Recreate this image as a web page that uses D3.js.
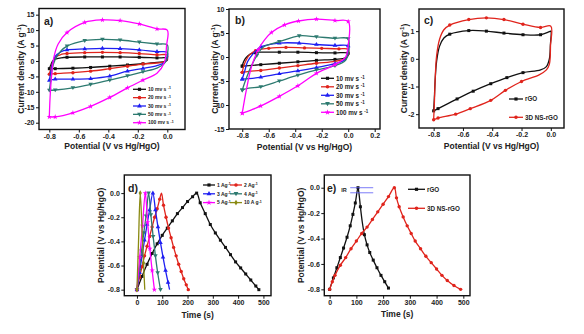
<!DOCTYPE html>
<html>
<head>
<meta charset="utf-8">
<script src="https://cdn.jsdelivr.net/npm/d3@7"></script>
<style>
  body { margin: 0; background: #fff; }
  svg text { font-family: "Liberation Sans", Arial, sans-serif; font-weight: bold; fill: #222; }
</style>
</head>
<body>
<div id="fig"></div>
<script>
// ---- CV loops, [potential V, current density A/g], anodic sweep then cathodic ----
const scanRates = ["10 mv s", "20 mv s", "30 mv s", "50 mv s", "100 mv s"];

const a10 = [[-0.8,-2.5],[-0.79,-1.3],[-0.78,-0.2],[-0.76,0.6],[-0.72,1.0],[-0.68,1.2],[-0.56,1.3],[-0.44,1.3],[-0.32,1.3],[-0.19,1.2],[-0.07,1.0],[0,0.9],
  [0,0.3],[-0.02,-0.2],[-0.07,-0.45],[-0.165,-0.9],[-0.27,-1.3],[-0.39,-1.7],[-0.52,-2.1],[-0.64,-2.35],[-0.76,-2.5],[-0.8,-2.5]];
const a20 = [[-0.8,-4.3],[-0.79,-2.5],[-0.78,-0.8],[-0.76,1.2],[-0.72,2.1],[-0.68,2.4],[-0.56,2.7],[-0.44,2.8],[-0.32,2.7],[-0.19,2.4],[-0.07,2.0],[0,1.9],
  [0,0.6],[-0.02,-0.3],[-0.07,-0.65],[-0.165,-1.0],[-0.27,-1.7],[-0.39,-2.5],[-0.52,-3.3],[-0.64,-3.8],[-0.76,-4.1],[-0.8,-4.3]];
const a30 = [[-0.8,-6.3],[-0.79,-3.5],[-0.78,-1.0],[-0.76,1.5],[-0.72,3.0],[-0.68,3.6],[-0.56,3.9],[-0.44,4.1],[-0.32,4.0],[-0.19,3.6],[-0.07,3.0],[0,2.8],
  [0,1.0],[-0.02,-0.6],[-0.07,-1.5],[-0.165,-2.4],[-0.27,-3.3],[-0.39,-4.9],[-0.52,-5.7],[-0.64,-5.9],[-0.76,-5.9],[-0.8,-6.3]];
const a50 = [[-0.8,-9.5],[-0.79,-6],[-0.78,-2.5],[-0.76,0.5],[-0.72,3.3],[-0.68,4.8],[-0.56,6.6],[-0.44,7.0],[-0.32,6.8],[-0.19,6.1],[-0.07,5.5],[0,5.2],
  [0,2.0],[-0.02,-0.8],[-0.07,-2.3],[-0.165,-3.5],[-0.27,-4.8],[-0.39,-6.2],[-0.52,-7.6],[-0.64,-8.7],[-0.76,-9.4],[-0.8,-9.5]];
const a100 = [[-0.8,-18.1],[-0.795,-12],[-0.785,-5],[-0.77,1],[-0.74,5.5],[-0.68,9.2],[-0.56,12.5],[-0.44,13.3],[-0.32,13.1],[-0.19,12.0],[-0.07,10.4],[0,10.0],
  [-0.005,5],[-0.02,-0.5],[-0.07,-4.0],[-0.165,-6.2],[-0.27,-8.7],[-0.39,-11.8],[-0.52,-14.7],[-0.64,-16.8],[-0.76,-18.1],[-0.8,-18.1]];

const b10 = [[-0.8,-1.9],[-0.79,-1.0],[-0.77,-0.1],[-0.74,0.6],[-0.7,0.9],[-0.66,1.0],[-0.52,1.0],[-0.38,1.0],[-0.24,0.9],[-0.1,0.85],[0,0.8],
  [0,0.3],[-0.02,-0.2],[-0.1,-0.5],[-0.24,-0.7],[-0.38,-1.0],[-0.52,-1.3],[-0.66,-1.6],[-0.75,-1.8],[-0.8,-1.9]];
const b20 = [[-0.8,-3.2],[-0.79,-2.0],[-0.77,-0.6],[-0.74,0.6],[-0.7,1.3],[-0.6,1.8],[-0.47,2.0],[-0.33,1.9],[-0.2,1.8],[-0.07,1.7],[0,1.6],
  [0,0.5],[-0.02,-0.3],[-0.1,-0.9],[-0.24,-1.3],[-0.38,-1.8],[-0.52,-2.3],[-0.66,-2.8],[-0.75,-3.0],[-0.8,-3.2]];
const b30 = [[-0.8,-4.6],[-0.78,-2.8],[-0.76,-1.0],[-0.72,0.6],[-0.66,2.1],[-0.52,2.9],[-0.37,2.9],[-0.24,2.6],[-0.1,2.4],[0,2.3],
  [0,0.8],[-0.02,-0.5],[-0.1,-1.4],[-0.24,-2.2],[-0.38,-2.9],[-0.52,-3.5],[-0.66,-4.2],[-0.75,-4.5],[-0.8,-4.6]];
const b50 = [[-0.8,-6.9],[-0.77,-4.5],[-0.73,-1.8],[-0.69,0.3],[-0.64,2.1],[-0.52,3.2],[-0.37,4.4],[-0.24,4.2],[-0.1,3.9],[0,3.8],
  [0,1.0],[-0.02,-0.7],[-0.1,-1.8],[-0.24,-2.7],[-0.38,-3.8],[-0.52,-5.0],[-0.66,-6.2],[-0.75,-6.5],[-0.8,-6.9]];
const b100 = [[-0.8,-11.7],[-0.77,-7],[-0.73,-2],[-0.68,1.5],[-0.63,3.6],[-0.58,5.1],[-0.48,6.7],[-0.375,7.5],[-0.24,7.9],[-0.1,7.6],[0,7.4],
  [0,2.5],[-0.02,0],[-0.1,-1.6],[-0.24,-3.4],[-0.38,-6.0],[-0.52,-8.2],[-0.66,-10.2],[-0.73,-11.0],[-0.8,-11.7]];

const materials = ["rGO", "3D NS-rGO"];
const cRGO = [[-0.8,-1.88],[-0.795,-1.4],[-0.79,-0.8],[-0.78,-0.1],[-0.76,0.45],[-0.73,0.75],[-0.69,0.89],[-0.56,1.02],[-0.44,1.0],[-0.32,0.93],[-0.19,0.87],[-0.07,0.87],[-0.01,0.98],[0,1.0],
  [-0.003,0.5],[-0.01,0.0],[-0.03,-0.28],[-0.07,-0.4],[-0.19,-0.5],[-0.3,-0.68],[-0.41,-0.9],[-0.53,-1.17],[-0.64,-1.45],[-0.77,-1.8],[-0.8,-1.88]];
const cNS = [[-0.8,-2.2],[-0.795,-1.6],[-0.79,-0.8],[-0.78,0.1],[-0.76,0.7],[-0.73,1.05],[-0.69,1.22],[-0.56,1.42],[-0.44,1.48],[-0.32,1.42],[-0.19,1.25],[-0.07,1.13],[0,1.18],
  [-0.002,0.5],[-0.01,-0.2],[-0.03,-0.4],[-0.08,-0.58],[-0.2,-0.82],[-0.31,-1.14],[-0.41,-1.5],[-0.55,-1.8],[-0.65,-2.0],[-0.77,-2.14],[-0.8,-2.2]];

// ---- charge/discharge curves, [time s, potential V] ----
const currents = ["1 Ag", "2 Ag", "3 Ag", "4 Ag", "5 Ag", "10 A g"];
const d1 = [[0,-0.8],[20,-0.69],[40,-0.59],[60,-0.5],[80,-0.42],[100,-0.35],[120,-0.29],[140,-0.23],[160,-0.17],[180,-0.12],[200,-0.07],[220,-0.03],[236,0],
  [250,-0.08],[270,-0.17],[290,-0.26],[310,-0.33],[330,-0.39],[350,-0.45],[370,-0.51],[390,-0.57],[410,-0.62],[430,-0.67],[450,-0.72],[470,-0.77],[482,-0.8]];
const d2 = [[0,-0.8],[10,-0.7],[20,-0.61],[30,-0.52],[40,-0.44],[50,-0.36],[60,-0.28],[70,-0.2],[80,-0.13],[90,-0.05],[97,0],
  [105,-0.1],[115,-0.2],[125,-0.29],[135,-0.37],[145,-0.45],[155,-0.52],[165,-0.59],[175,-0.65],[185,-0.71],[195,-0.76],[203,-0.8]];
const d3s = [[0,-0.8],[10,-0.66],[20,-0.52],[30,-0.39],[40,-0.26],[50,-0.14],[63,0],
  [73,-0.14],[83,-0.28],[93,-0.41],[103,-0.53],[113,-0.64],[123,-0.74],[129,-0.8]];
const d4 = [[0,-0.8],[9,-0.64],[18,-0.48],[27,-0.33],[36,-0.19],[46,0],
  [55,-0.18],[64,-0.36],[73,-0.52],[82,-0.66],[93,-0.8]];
const d5 = [[0,-0.8],[11,-0.53],[22,-0.27],[33,0],[42,-0.24],[51,-0.46],[60,-0.64],[69,-0.8]];
const d10 = [[0,-0.8],[6,-0.42],[13,0],[20,-0.3],[26,-0.58],[31,-0.8]];

const eRGO = [[0,-0.8],[14,-0.71],[27,-0.63],[40,-0.55],[52,-0.475],[65,-0.39],[77,-0.3],[87,-0.21],[96,-0.12],[106,0],
  [110,-0.05],[115,-0.15],[122,-0.27],[130,-0.37],[140,-0.45],[150,-0.51],[163,-0.57],[177,-0.63],[192,-0.69],[206,-0.74],[220,-0.79]];
const eNS = [[0,-0.8],[10,-0.74],[20,-0.69],[40,-0.61],[60,-0.55],[80,-0.48],[100,-0.42],[120,-0.36],[140,-0.31],[160,-0.25],[180,-0.19],[200,-0.13],[220,-0.07],[242,0],
  [250,-0.08],[260,-0.15],[275,-0.23],[290,-0.3],[305,-0.36],[320,-0.42],[340,-0.48],[360,-0.54],[380,-0.59],[400,-0.64],[420,-0.69],[440,-0.73],[465,-0.77],[490,-0.8]];
// IR drop at the top of the rGO discharge
const irLevels = [0, -0.04];
const irSpan = [77, 163];

const colors = { black: "#111", red: "#e0241c", blue: "#1f1ff2", teal: "#2d7a70", magenta: "#f0f", olive: "#8a8a12" };
const triDown = { draw: (ctx, size) => { const s = Math.sqrt(size / 0.433) / 2; ctx.moveTo(0, s); ctx.lineTo(s, -s * 0.7); ctx.lineTo(-s, -s * 0.7); ctx.closePath(); } };

const svg = d3.select("#fig").append("svg").attr("width", 584).attr("height", 334);

const fmt1 = (d) => d.toFixed(1);
const fmt0 = (d) => String(d);

function supText(sel, base, sup, tail) {
  sel.append("tspan").text(base);
  sel.append("tspan").attr("dy", "-0.45em").attr("font-size", "0.7em").text(sup);
  if (tail) sel.append("tspan").attr("dy", "0.45em").text(tail);
}

function panel(cfg) {
  const [l, t, r, b] = cfg.box;
  const x = d3.scaleLinear().domain(cfg.xDomain).range([l, r]);
  const y = d3.scaleLinear().domain(cfg.yDomain).range([b, t]);
  const g = svg.append("g");

  const xAxis = g.append("g").attr("transform", `translate(0,${b})`)
    .call(d3.axisBottom(x).tickValues(cfg.xTicks).tickFormat(cfg.xFormat).tickSize(3).tickPadding(1.5));
  const yAxis = g.append("g").attr("transform", `translate(${l},0)`)
    .call(d3.axisLeft(y).tickValues(cfg.yTicks).tickFormat(cfg.yFormat).tickSize(3).tickPadding(1.5));
  [xAxis, yAxis].forEach((a) => {
    a.select(".domain").remove();
    a.selectAll("line").attr("stroke", "#111").attr("stroke-width", 1);
    a.selectAll("text").attr("font-size", 7).attr("font-family", null).attr("fill", "#222");
  });

  g.append("rect").attr("x", l).attr("y", t).attr("width", r - l).attr("height", b - t)
    .attr("fill", "none").attr("stroke", "#111").attr("stroke-width", 1.4);

  // axis titles
  g.append("text").attr("x", (l + r) / 2).attr("y", cfg.xTitleY).attr("text-anchor", "middle")
    .attr("font-size", 8.5).text(cfg.xTitle);
  const yt = g.append("text").attr("transform", `translate(${cfg.yTitleX},${(t + b) / 2}) rotate(-90)`)
    .attr("text-anchor", "middle").attr("font-size", 8.5);
  if (cfg.ySup) supText(yt, cfg.yTitle, cfg.ySup, ")");
  else yt.text(cfg.yTitle);

  g.append("text").attr("x", cfg.letter[1]).attr("y", cfg.letter[2]).attr("font-size", 10.5)
    .attr("fill", "#111").text(cfg.letter[0]);

  return { g, x, y };
}

function series(p, pts, color, symbol, gap) {
  const line = d3.line().x((d) => p.x(d[0])).y((d) => p.y(d[1])).curve(d3.curveCatmullRom.alpha(0.5));
  p.g.append("path").datum(pts).attr("d", line)
    .attr("fill", "none").attr("stroke", color).attr("stroke-width", 1.3);

  // markers spaced out horizontally so the steep ends stay bare
  let lastX = -Infinity;
  const marks = pts.filter((d) => {
    const px = p.x(d[0]);
    if (Math.abs(px - lastX) >= gap) { lastX = px; return true; }
    return false;
  });
  p.g.selectAll(null).data(marks).enter().append("path")
    .attr("d", d3.symbol().type(symbol).size(9))
    .attr("transform", (d) => `translate(${p.x(d[0])},${p.y(d[1])})`)
    .attr("fill", color);
}

function legendRow(g, x, y, len, color, symbol, fontSize, label, sup) {
  g.append("line").attr("x1", x).attr("x2", x + len).attr("y1", y).attr("y2", y)
    .attr("stroke", color).attr("stroke-width", 1.3);
  g.append("path").attr("d", d3.symbol().type(symbol).size(10))
    .attr("transform", `translate(${x + len / 2},${y})`).attr("fill", color);
  const tx = g.append("text").attr("x", x + len + 2).attr("y", y + fontSize * 0.35).attr("font-size", fontSize);
  if (sup) supText(tx, label, sup);
  else tx.text(label);
}

const cvSymbols = [d3.symbolSquare, d3.symbolCircle, d3.symbolTriangle, triDown, d3.symbolStar];
const cvColors = [colors.black, colors.red, colors.blue, colors.teal, colors.magenta];

// a) CV at different scan rates
const pa = panel({
  box: [39, 8.5, 185, 129.5], xDomain: [-0.87, 0.12], yDomain: [-22.2, 17],
  xTicks: [-0.8, -0.6, -0.4, -0.2, 0], yTicks: [-20, -15, -10, -5, 0, 5, 10, 15],
  xFormat: fmt1, yFormat: fmt0, xTitle: "Potential (V vs Hg/HgO)", xTitleY: 149,
  yTitle: "Current density (A g", ySup: "-1", yTitleX: 24, letter: ["a)", 44, 25],
});
[a10, a20, a30, a50, a100].forEach((s, i) => series(pa, s, cvColors[i], cvSymbols[i], 13));
scanRates.forEach((s, i) => legendRow(pa.g, 133, 89.3 + i * 8.35, 13, cvColors[i], cvSymbols[i], 5, s + " ", "-1"));

// b) CV at different scan rates
const pb = panel({
  box: [229, 9, 380, 129], xDomain: [-0.9, 0.24], yDomain: [-15, 10],
  xTicks: [-0.8, -0.6, -0.4, -0.2, 0, 0.2], yTicks: [-15, -10, -5, 0, 5, 10],
  xFormat: fmt1, yFormat: fmt0, xTitle: "Potential (V vs Hg/HgO)", xTitleY: 150,
  yTitle: "Current density (A g", ySup: "-1", yTitleX: 218, letter: ["b)", 235, 24],
});
[b10, b20, b30, b50, b100].forEach((s, i) => series(pb, s, cvColors[i], cvSymbols[i], 13));
scanRates.forEach((s, i) => legendRow(pb.g, 321, 78.3 + i * 8.5, 13, cvColors[i], cvSymbols[i], 6.3, s + " ", "-1"));

// c) rGO vs 3D NS-rGO
const pc = panel({
  box: [419, 9, 564, 128], xDomain: [-0.9, 0.09], yDomain: [-2.5, 1.8],
  xTicks: [-0.8, -0.6, -0.4, -0.2, 0], yTicks: [-2, -1, 0, 1],
  xFormat: fmt1, yFormat: fmt0, xTitle: "Potential (V vs Hg/HgO)", xTitleY: 149,
  yTitle: "Current density (A g", ySup: "-1", yTitleX: 407, letter: ["c)", 424, 24],
});
series(pc, cRGO, colors.black, d3.symbolSquare, 13);
series(pc, cNS, colors.red, d3.symbolCircle, 13);
legendRow(pc.g, 509, 99, 14, colors.black, d3.symbolSquare, 6.3, materials[0]);
legendRow(pc.g, 509, 117.3, 14, colors.red, d3.symbolCircle, 6.3, materials[1]);

// d) galvanostatic charge/discharge at different currents
const pd = panel({
  box: [124.3, 175, 271, 295.7], xDomain: [-50, 530], yDomain: [-0.85, 0.15],
  xTicks: [0, 100, 200, 300, 400, 500], yTicks: [-0.8, -0.6, -0.4, -0.2, 0],
  xFormat: fmt0, yFormat: fmt1, xTitle: "Time (s)", xTitleY: 318,
  yTitle: "Potential (V vs Hg/HgO)", yTitleX: 104, letter: ["d)", 128, 192],
});
const gcdSymbols = [d3.symbolSquare, d3.symbolCircle, d3.symbolTriangle, triDown, d3.symbolStar, d3.symbolDiamond];
const gcdColors = [colors.black, colors.red, colors.blue, colors.teal, colors.magenta, colors.olive];
[d1, d2, d3s, d4, d5, d10].forEach((s, i) => series(pd, s, gcdColors[i], gcdSymbols[i], 2));
currents.forEach((s, i) => {
  const col = i % 2, row = Math.floor(i / 2);
  legendRow(pd.g, col ? 230 : 203, 185 + row * 8.8, 12, gcdColors[i], gcdSymbols[i], 5, s, "-1");
});

// e) rGO vs 3D NS-rGO at 1 A/g
const pe = panel({
  box: [324.3, 175, 470, 295.7], xDomain: [-20, 525], yDomain: [-0.85, 0.1],
  xTicks: [0, 100, 200, 300, 400, 500], yTicks: [-0.8, -0.6, -0.4, -0.2, 0],
  xFormat: fmt0, yFormat: fmt1, xTitle: "Time (s)", xTitleY: 317,
  yTitle: "Potential (V vs Hg/HgO)", yTitleX: 304, letter: ["e)", 327, 192],
});
series(pe, eRGO, colors.black, d3.symbolSquare, 2);
series(pe, eNS, colors.red, d3.symbolCircle, 2);
irLevels.forEach((v) => {
  pe.g.append("line").attr("x1", pe.x(irSpan[0])).attr("x2", pe.x(irSpan[1]))
    .attr("y1", pe.y(v)).attr("y2", pe.y(v)).attr("stroke", "#5a5af5").attr("stroke-width", 0.8);
});
pe.g.append("text").attr("x", pe.x(irSpan[0]) - 9).attr("y", pe.y(-0.02) + 2)
  .attr("font-size", 5.5).attr("fill", "#555").text("IR");
legendRow(pe.g, 408, 189.3, 17, colors.black, d3.symbolSquare, 6.3, materials[0]);
legendRow(pe.g, 408, 208.3, 17, colors.red, d3.symbolCircle, 6.3, materials[1]);
</script>
</body>
</html>
